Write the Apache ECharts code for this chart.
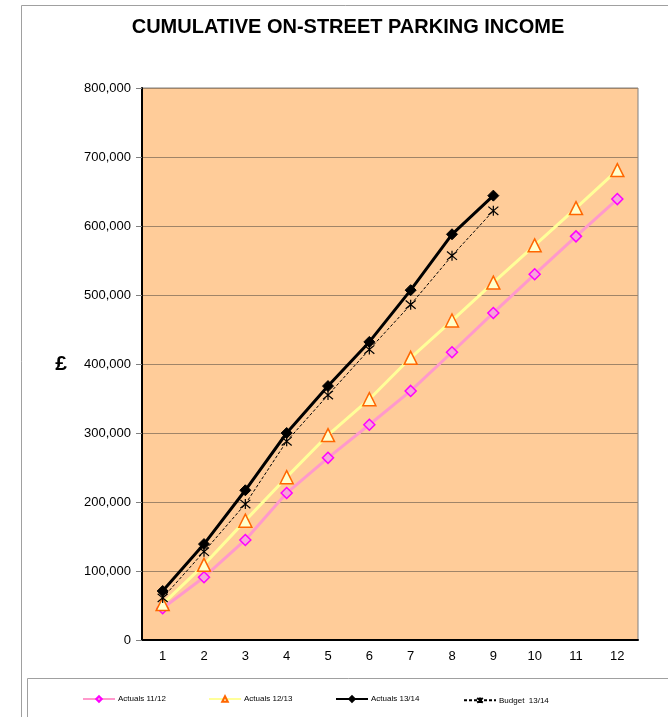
<!DOCTYPE html>
<html>
<head>
<meta charset="utf-8">
<script src="https://cdn.jsdelivr.net/npm/echarts@6/dist/echarts.min.js"></script>
<style>
html, body { margin: 0; padding: 0; background: #fff; }
#chart { width: 668px; height: 717px; }
</style>
</head>
<body>
<div id="chart"></div>
<script>
// months (periods) along the bottom
var months = ['1', '2', '3', '4', '5', '6', '7', '8', '9', '10', '11', '12'];

// cumulative income
var actuals1112 = [46000, 91000, 145000, 213000, 264000, 312000, 361000, 417000, 474000, 530000, 585000, 639000];
var actuals1213 = [52000, 109000, 173000, 236000, 297000, 349000, 409000, 463000, 518000, 572000, 626000, 681000];
var actuals1314 = [71000, 139000, 217000, 300000, 368000, 432000, 507000, 588000, 644000];
var budget1314 = [61000, 128000, 197000, 288000, 355000, 421000, 486000, 557000, 622000];

var font = 'Liberation Sans, Arial, sans-serif';
var starPath = 'path://M0 0 L10 10 M10 0 L0 10 M5 -1 L5 11';

var myChart = echarts.init(document.getElementById('chart'));

function legendAt(x, name) {
    return {
        left: x, top: 695,
        padding: 0,
        data: [name],
        itemWidth: 32, itemHeight: 7, itemGap: 0,
        textStyle: { fontFamily: font, fontSize: 8, color: '#000', padding: [0, 0, 0, -2] },
        selectedMode: false
    };
}

var option = {
    animation: false,
    backgroundColor: '#fff',
    textStyle: { fontFamily: font },
    title: {
        text: 'CUMULATIVE ON-STREET PARKING INCOME',
        left: 343, top: 12, textAlign: 'center',
        textStyle: { fontFamily: font, fontSize: 20, fontWeight: 'bold', color: '#000' }
    },
    graphic: [
        // outer chart border
        { type: 'rect', shape: { x: 21.5, y: 5.5, width: 700, height: 720 }, style: { fill: 'none', stroke: '#a0a0a0', lineWidth: 1 }, silent: true },
        // legend box
        { type: 'rect', shape: { x: 27.5, y: 678.5, width: 700, height: 60 }, style: { fill: '#fff', stroke: '#a0a0a0', lineWidth: 1 }, silent: true }
    ],
    legend: [
        legendAt(82, 'Actuals 11/12'),
        legendAt(208, 'Actuals 12/13'),
        legendAt(335, 'Actuals 13/14'),
        legendAt(463, 'Budget  13/14')
    ],
    grid: {
        left: 142, right: 30, top: 88, bottom: 77,
        show: true,
        backgroundColor: '#FFCC99',
        borderColor: '#808080',
        borderWidth: 1
    },
    xAxis: {
        type: 'category',
        data: months,
        boundaryGap: true,
        axisLine: { lineStyle: { color: '#000', width: 2 } },
        axisTick: { length: 6, lineStyle: { color: '#808080' } },
        axisLabel: { fontFamily: font, fontSize: 13, color: '#000', margin: 10 }
    },
    yAxis: {
        type: 'value',
        min: 0, max: 800000, interval: 100000,
        name: '£',
        nameLocation: 'middle',
        nameRotate: 0,
        nameGap: 75,
        nameTextStyle: { fontFamily: font, fontSize: 21, fontWeight: 'bold', color: '#000' },
        axisLine: { show: true, lineStyle: { color: '#000', width: 2 } },
        axisTick: { show: true, length: 6, lineStyle: { color: '#808080' } },
        axisLabel: {
            fontFamily: font, fontSize: 13, color: '#000', margin: 11,
            formatter: function (v) { return v.toLocaleString('en-GB'); }
        },
        splitLine: { lineStyle: { color: '#A08468', width: 1 } }
    },
    series: [
        {
            name: 'Actuals 11/12',
            type: 'line',
            data: actuals1112,
            symbol: 'diamond',
            symbolSize: 11,
            lineStyle: { color: '#FF99CC', width: 3 },
            itemStyle: { color: '#F7A3DA', borderColor: '#FF00FF', borderWidth: 1.5 },
            z: 2
        },
        {
            name: 'Actuals 12/13',
            type: 'line',
            data: actuals1213,
            symbol: 'triangle',
            symbolSize: 13,
            lineStyle: { color: '#FFFF99', width: 3 },
            itemStyle: { color: '#FFFFCC', borderColor: '#FF6600', borderWidth: 1.5 },
            z: 3
        },
        {
            name: 'Actuals 13/14',
            type: 'line',
            data: actuals1314,
            symbol: 'diamond',
            symbolSize: 11,
            lineStyle: { color: '#000', width: 3 },
            itemStyle: { color: '#000', borderColor: '#000', borderWidth: 1 },
            z: 5
        },
        {
            name: 'Budget  13/14',
            type: 'line',
            data: budget1314,
            symbol: starPath,
            symbolSize: 10,
            lineStyle: { color: '#000', width: 1, type: [3, 2] },
            itemStyle: { color: 'none', borderColor: '#000', borderWidth: 1.2 },
            z: 4
        }
    ]
};

myChart.setOption(option);
</script>
</body>
</html>
